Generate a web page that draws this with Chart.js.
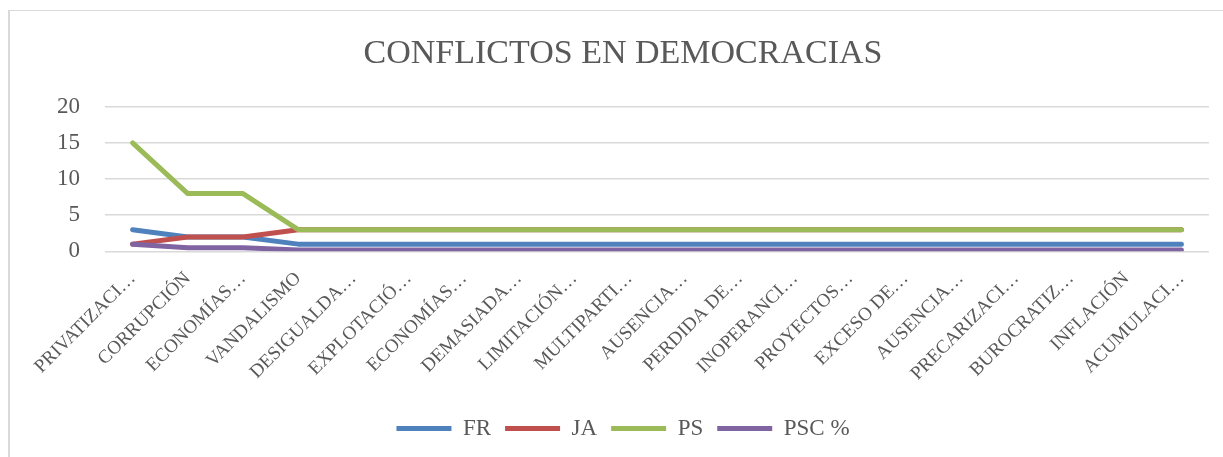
<!DOCTYPE html>
<html>
<head>
<meta charset="utf-8">
<script src="https://cdn.jsdelivr.net/npm/chart.js@4/dist/chart.umd.min.js"></script>
<style>
  html, body { margin: 0; padding: 0; background: #fff; }
  #marco { position: absolute; left: 8px; top: 10px; width: 1300px; height: 500px;
           border-left: 2px solid #d9d9d9; border-top: 1px solid #d9d9d9; }
  #grafico { position: absolute; left: 0; top: 0; }
</style>
</head>
<body>
<div id="marco"></div>
<canvas id="grafico" width="1223" height="457"></canvas>
<script>
// categorias (recortadas como en la hoja)
var categorias = ["PRIVATIZACI…", "CORRUPCIÓN", "ECONOMÍAS…", "VANDALISMO", "DESIGUALDA…",
    "EXPLOTACIÓ…", "ECONOMÍAS…", "DEMASIADA…", "LIMITACIÓN…", "MULTIPARTI…",
    "AUSENCIA…", "PERDIDA DE…", "INOPERANCI…", "PROYECTOS…", "EXCESO DE…",
    "AUSENCIA…", "PRECARIZACI…", "BUROCRATIZ…", "INFLACIÓN", "ACUMULACI…"];

var fr  = [3, 2, 2, 1, 1, 1, 1, 1, 1, 1, 1, 1, 1, 1, 1, 1, 1, 1, 1, 1];
var ja  = [1, 2, 2, 3, 3, 3, 3, 3, 3, 3, 3, 3, 3, 3, 3, 3, 3, 3, 3, 3];
var ps  = [15, 8, 8, 3, 3, 3, 3, 3, 3, 3, 3, 3, 3, 3, 3, 3, 3, 3, 3, 3];
var psc = [1, 0.5, 0.5, 0.2, 0.2, 0.2, 0.2, 0.2, 0.2, 0.2, 0.2, 0.2, 0.2, 0.2, 0.2, 0.2, 0.2, 0.2, 0.2, 0.2];

var ticksY = [0, 5, 10, 15, 20];

var fuente = "'Liberation Serif', 'DejaVu Serif', serif";
var gris = "#595959";

function serie(nombre, datos, color, orden) {
    return {
        label: nombre,
        data: datos,
        borderColor: color,
        backgroundColor: color,
        borderWidth: 5,
        borderCapStyle: 'round',
        borderJoinStyle: 'round',
        pointRadius: 0,
        pointHoverRadius: 0,
        tension: 0,
        order: orden
    };
}

var ctx = document.getElementById('grafico').getContext('2d');

var grafico = new Chart(ctx, {
    type: 'line',
    data: {
        labels: categorias,
        datasets: [
            serie("FR", fr, "#4F81BD", 4),
            serie("JA", ja, "#C0504D", 3),
            serie("PS", ps, "#9BBB59", 2),
            serie("PSC %", psc, "#8064A2", 1)
        ]
    },
    options: {
        responsive: false,
        animation: false,
        layout: { padding: { left: 37, right: 14, top: 0, bottom: 7 } },
        plugins: {
            title: {
                display: true,
                text: "CONFLICTOS EN DEMOCRACIAS",
                color: gris,
                font: { family: fuente, size: 34, weight: 'normal' },
                padding: { top: 34, bottom: 32 }
            },
            legend: {
                position: 'bottom',
                labels: {
                    usePointStyle: true,
                    pointStyle: 'line',
                    pointStyleWidth: 55,
                    boxHeight: 5,
                    color: gris,
                    font: { family: fuente, size: 23 },
                    padding: 14,
                    sort: function (a, b) { return a.datasetIndex - b.datasetIndex; }
                }
            },
            tooltip: { enabled: false }
        },
        scales: {
            x: {
                offset: true,
                afterFit: function (eje) { eje.height += 10; },
                grid: { display: false },
                border: { display: false },
                ticks: {
                    autoSkip: false,
                    minRotation: 45,
                    maxRotation: 45,
                    color: gris,
                    padding: 8,
                    font: { family: fuente, size: 19 }
                }
            },
            y: {
                min: 0,
                max: 20,
                afterFit: function (eje) { eje.width = 68; },
                afterBuildTicks: function (eje) {
                    eje.ticks = ticksY.map(function (v) { return { value: v }; });
                },
                grid: { color: "#d9d9d9", lineWidth: 1.5, drawTicks: false },
                border: { display: false },
                ticks: {
                    color: gris,
                    padding: 25,
                    font: { family: fuente, size: 23 }
                }
            }
        }
    }
});
</script>
</body>
</html>
